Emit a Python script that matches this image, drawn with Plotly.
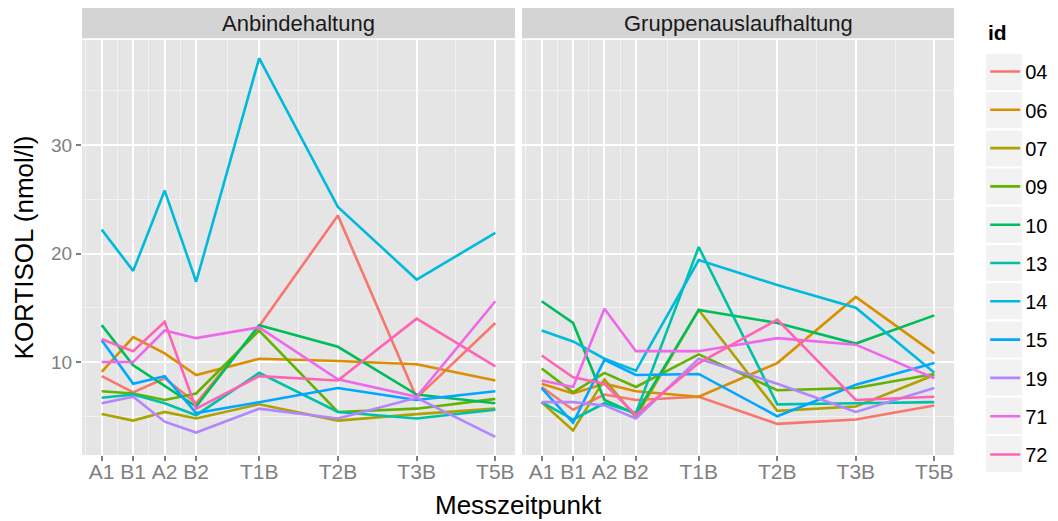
import plotly.graph_objects as go

# Messzeitpunkte (numerische Position auf der x-Achse) und Beschriftung
x_pos = [0, 1, 2, 3, 5, 7.5, 10, 12.5]
x_labels = ["A1", "B1", "A2", "B2", "T1B", "T2B", "T3B", "T5B"]

ids = ["04", "06", "07", "09", "10", "13", "14", "15", "19", "71", "72"]
colors = ["#F8766D", "#DB8E00", "#AEA200", "#64B200", "#00BD5C", "#00C1A7",
          "#00BADE", "#00A6FF", "#B385FF", "#EF67EB", "#FF63B6"]

# KORTISOL (nmol/l), Anbindehaltung
anbinde = {
    "04": [8.7, 7.2, 8.5, 6.2, 13.3, 23.5, 6.7, 13.6],
    "06": [9.1, 12.3, 10.8, 8.8, 10.3, 10.1, 9.8, 8.3],
    "07": [5.2, 4.6, 5.4, 4.8, 6.1, 4.6, 5.2, 5.7],
    "09": [7.3, 7.1, 6.5, 7.1, 12.9, 5.4, 5.7, 6.6],
    "10": [13.4, 9.7, 7.8, 5.9, 13.4, 11.4, 7.0, 6.2],
    "13": [6.7, 7.0, 6.2, 5.1, 9.0, 5.4, 4.8, 5.6],
    "14": [22.2, 18.4, 25.8, 17.4, 38.0, 24.3, 17.6, 21.9],
    "15": [12.0, 8.0, 8.7, 5.3, 6.3, 7.6, 6.5, 7.3],
    "19": [6.2, 6.8, 4.5, 3.5, 5.7, 4.8, 6.7, 3.1],
    "71": [10.0, 10.0, 12.9, 12.2, 13.2, 8.4, 6.8, 15.6],
    "72": [12.1, 11.0, 13.7, 5.7, 8.7, 8.3, 14.0, 9.6],
}

# KORTISOL (nmol/l), Gruppenauslaufhaltung
gruppen = {
    "04": [7.7, 5.6, 7.0, 6.5, 6.8, 4.3, 4.7, 6.0],
    "06": [8.0, 7.1, 8.0, 7.3, 6.8, 9.9, 16.0, 10.8],
    "07": [6.3, 3.7, 8.4, 4.9, 14.8, 5.5, 5.9, 8.8],
    "09": [9.4, 7.2, 9.0, 7.7, 10.7, 7.4, 7.6, 8.9],
    "10": [15.6, 13.6, 6.5, 5.2, 14.8, 13.6, 11.7, 14.3],
    "13": [6.3, 4.7, 6.2, 5.3, 20.6, 6.1, 6.2, 6.3],
    "14": [12.9, 11.9, 10.3, 9.2, 19.4, 17.1, 15.0, 9.0],
    "15": [7.6, 4.4, 10.2, 8.8, 8.9, 5.0, 7.9, 9.9],
    "19": [6.3, 6.3, 6.0, 4.8, 10.3, 8.0, 5.4, 7.6],
    "71": [8.3, 7.7, 14.9, 11.0, 11.0, 12.2, 11.6, 8.5],
    "72": [10.6, 8.6, 8.0, 5.1, 9.9, 13.9, 6.5, 6.8],
}

facets = [("Anbindehaltung", anbinde, "x", "y"),
          ("Gruppenauslaufhaltung", gruppen, "x2", "y2")]

fig = go.Figure()
for k, (name, data, xa, ya) in enumerate(facets):
    for i, c in zip(ids, colors):
        fig.add_trace(go.Scatter(
            x=x_pos, y=data[i], mode="lines", name=i,
            line=dict(color=c, width=2.6),
            legendgroup=i, showlegend=(k == 0),
            xaxis=xa, yaxis=ya))

grey50 = "#7F7F7F"
FONT = "Liberation Sans, Arial"
xaxis_style = dict(
    range=[-0.625, 13.125], tickvals=x_pos, ticktext=x_labels,
    ticks="outside", ticklen=5, tickwidth=2, tickcolor=grey50,
    tickfont=dict(family=FONT, size=21, color=grey50),
    ticklabelstandoff=-7,
    showgrid=True, gridcolor="white", gridwidth=2, zeroline=False,
    showline=False, automargin=False,
    minor=dict(tickvals=[-0.5, 0.5, 1.5, 2.5, 4, 6.25, 8.75, 11.25],
               showgrid=True, gridcolor="#F2F2F2", gridwidth=1, ticks=""),
)
yaxis_common = dict(
    range=[1.43, 39.68], tickvals=[10, 20, 30],
    showgrid=True, gridcolor="white", gridwidth=2, zeroline=False,
    automargin=False,
    minor=dict(tickvals=[5, 15, 25, 35], showgrid=True,
               gridcolor="#F2F2F2", gridwidth=1, ticks=""),
)

fig.update_layout(
    width=1058, height=521,
    margin=dict(l=82, r=104, t=40, b=66),
    paper_bgcolor="white", plot_bgcolor="#E5E5E5",
    font=dict(family=FONT, color="black"),
    xaxis=dict(domain=[0, 0.4966], anchor="y", **xaxis_style),
    xaxis2=dict(domain=[0.5046, 1], anchor="y2", **xaxis_style),
    yaxis=dict(anchor="x",
               ticks="outside", ticklen=5, tickwidth=2, tickcolor=grey50,
               tickfont=dict(family=FONT, size=19, color=grey50),
               title=dict(text="KORTISOL (nmol/l)", standoff=9,
                          font=dict(size=26, color="black")),
               **yaxis_common),
    yaxis2=dict(anchor="x2", matches="y", showticklabels=False, ticks="",
                **yaxis_common),
    legend=dict(
        font=dict(size=20, color="black"),
        xref="container", yref="container", x=0.9312, y=0.9002,
        xanchor="left", yanchor="top", maxheight=600,
        tracegroupgap=9.3, bgcolor="rgba(0,0,0,0)",
    ),
)

# background plot area for the second panel
fig.add_shape(type="rect", xref="x2 domain", yref="y2 domain",
              x0=0, x1=1, y0=0, y1=1, fillcolor="#E5E5E5",
              line_width=0, layer="below")

# facet strips
for k, (name, data, xa, ya) in enumerate(facets):
    fig.add_shape(type="rect", xref=f"{xa} domain", yref=f"{ya} domain",
                  x0=0, x1=1, y0=1.004, y1=1 + 32 / 415,
                  fillcolor="#D4D4D4", line_width=0)
    fig.add_annotation(text=name, xref=f"{xa} domain", yref=f"{ya} domain",
                       x=0.5, y=1 + 16 / 415, yanchor="middle",
                       showarrow=False,
                       font=dict(size=22, color="#1A1A1A"))

fig.add_annotation(text="Messzeitpunkt", xref="paper", yref="paper",
                   x=0.5, y=-0.12, yanchor="middle", showarrow=False,
                   font=dict(size=26, color="black"))

# legend title placed like ggplot (left aligned with the keys)
fig.add_annotation(text="<b>id</b>", xref="paper", yref="paper",
                   x=(986 - 82) / 872, y=(455 - 33) / 415,
                   xanchor="left", yanchor="middle", showarrow=False,
                   font=dict(size=21, color="black"))

# grey legend key backgrounds (ggplot style)
for n in range(len(ids)):
    yc = 72 + 38.2 * n
    fig.add_shape(type="rect", xref="paper", yref="paper",
                  x0=(986 - 82) / 872, x1=(1022 - 82) / 872,
                  y0=(455 - yc - 18) / 415, y1=(455 - yc + 18) / 415,
                  fillcolor="#F2F2F2", line_width=0, layer="below")

fig.write_html("out.html", config={"displayModeBar": False},
               post_script="document.body.style.margin='0';")
